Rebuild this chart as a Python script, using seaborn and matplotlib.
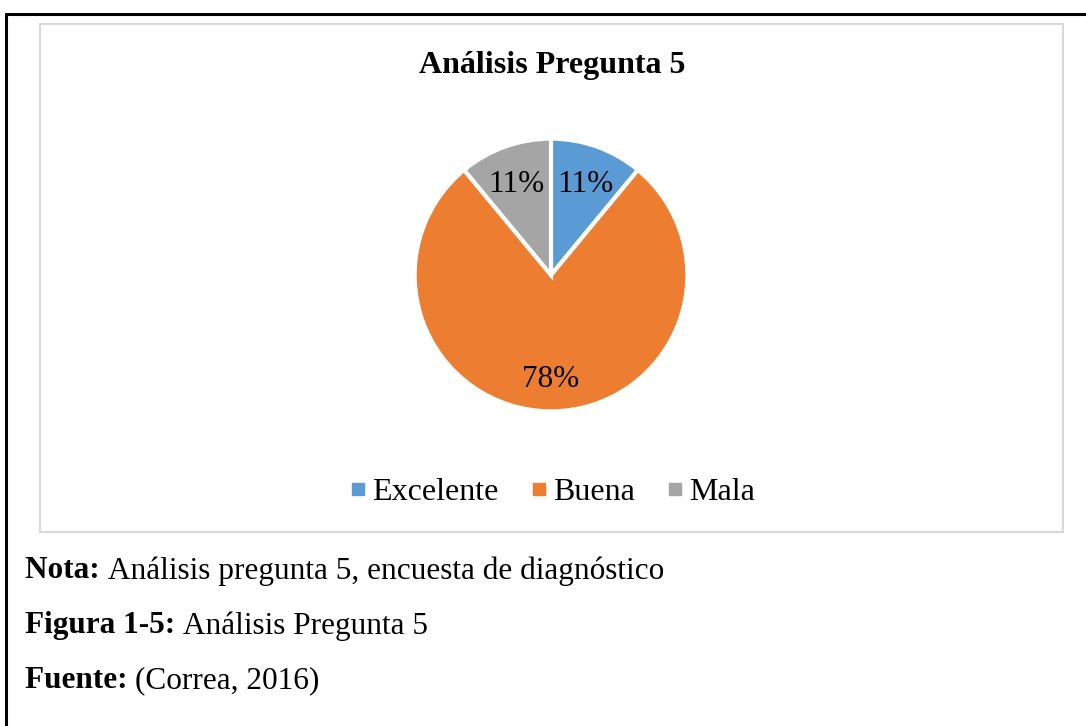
import matplotlib.pyplot as plt
import numpy as np
import seaborn as sns
from matplotlib.lines import Line2D
from matplotlib.patches import Rectangle

categories = ["Excelente", "Buena", "Mala"]
shares = [11, 78, 11]
pct_labels = ["11%", "78%", "11%"]
colors = ["#5B9BD5", "#ED7D31", "#A5A5A5"]
title = "Análisis Pregunta 5"
notes = [
    ("Nota:", "Análisis pregunta 5, encuesta de diagnóstico"),
    ("Figura 1-5:", "Análisis Pregunta 5"),
    ("Fuente:", "(Correa, 2016)"),
]

W, H = 1086, 726
sns.set_theme(style="white")
plt.rcParams["font.family"] = ["Liberation Serif", "DejaVu Serif"]
plt.rcParams["text.color"] = "black"

fig = plt.figure(figsize=(W / 100, H / 100), dpi=100)
fig.patch.set_facecolor("white")


def fx(px):
    return px / W


def fy(py):
    return 1 - py / H


# outer document frame
fig.add_artist(Line2D([fx(6), fx(1090)], [fy(14), fy(14)], color="black", linewidth=2.2))
fig.add_artist(Line2D([fx(6), fx(6)], [fy(14), fy(730)], color="black", linewidth=2.2))

# chart area frame
fig.add_artist(Rectangle((fx(40), fy(532)), fx(1063) - fx(40), fy(24) - fy(532),
                         fill=False, edgecolor="#D9D9D9", linewidth=1.5))

fig.text(fx(552), fy(66), title, ha="center", va="center", fontsize=23, fontweight="bold", color="black")

# pie axes: 300px square centred on (551, 275), radius 1 -> 136px
size = 300
ax = fig.add_axes([fx(551 - size / 2), fy(275 + size / 2), size / W, size / H])
wedges, texts = ax.pie(
    shares,
    colors=colors,
    startangle=90,
    counterclock=False,
    radius=1,
    wedgeprops=dict(edgecolor="white", linewidth=3),
)
for w, lab in zip(wedges, pct_labels):
    ang = np.deg2rad((w.theta1 + w.theta2) / 2)
    ax.text(0.74 * np.cos(ang), 0.74 * np.sin(ang) - 0.03, lab,
            ha="center", va="center", fontsize=22.5, color="black")
ax.set_xlim(-1.1, 1.1)
ax.set_ylim(-1.1, 1.1)
ax.set_aspect("equal")
ax.axis("off")

handles = [Line2D([], [], marker="s", linestyle="none", markersize=8, color=c) for c in colors]
leg = fig.legend(
    handles,
    categories,
    loc="center",
    bbox_to_anchor=(fx(551), fy(492)),
    ncol=3,
    frameon=False,
    fontsize=23,
    handletextpad=0.1,
    columnspacing=0.9,
    handlelength=0.7,
)
for t in leg.get_texts():
    t.set_color("black")

for i, (bold, rest) in enumerate(notes):
    y = fy(571 + i * 55)
    t = fig.text(fx(25), y, bold + " ", ha="left", va="center", fontsize=22.5, fontweight="bold", color="black")
    fig.canvas.draw()
    bb = t.get_window_extent()
    fig.text(bb.x1 / W, y, rest, ha="left", va="center", fontsize=22.5, color="black")

fig.savefig("out.png", dpi=100)
